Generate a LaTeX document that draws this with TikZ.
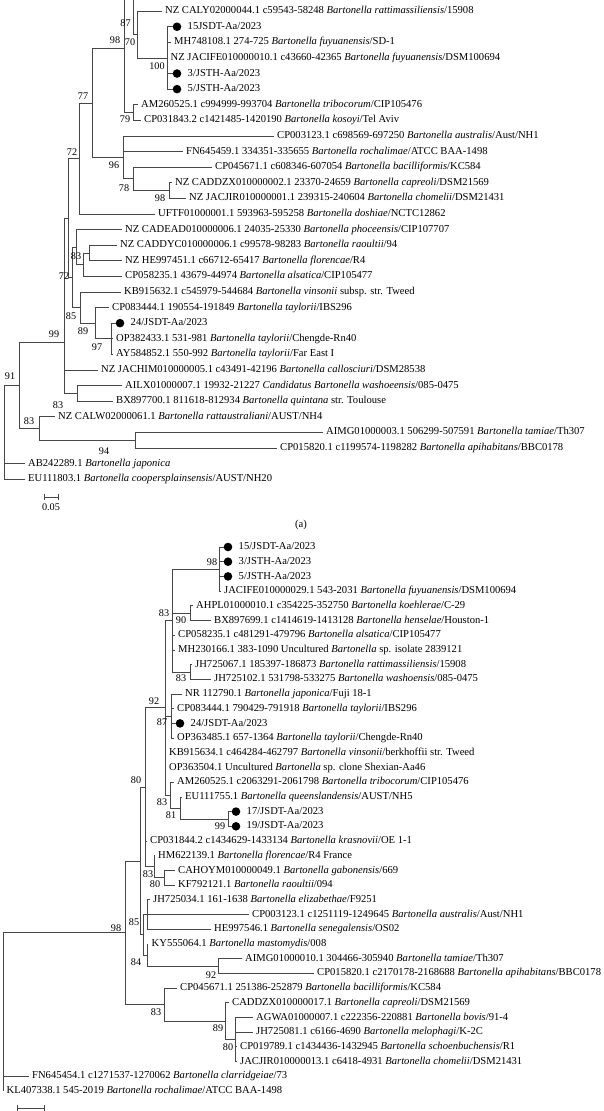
\documentclass[tikz,border=0pt]{standalone}
\usepackage{fontspec}
\setmainfont{Liberation Serif}
\usetikzlibrary{positioning}

\tikzset{
  br/.style={line width=0.8pt, draw=black!72},
  leaf/.style={anchor=west, inner xsep=3.5pt, inner ysep=0pt, text height=7.4pt, text depth=2.2pt, font=\fontsize{10.6}{12}\selectfont},
  bs/.style={inner sep=0pt, font=\fontsize{10.2}{12}\selectfont},
  iso/.style={circle, fill=black, inner sep=0pt, minimum size=8.6pt},
}

\begin{document}
\begin{tikzpicture}[x=1pt, y=-1pt]
    \useasboundingbox (0,0) rectangle (603,1111);
    \clip (0,0) rectangle (603,1111);
    \fill[white] (0,0) rectangle (603,1111);

    % ---------------- tree (a)
    \begin{scope}[yscale=1.013]
    % inner nodes
    \coordinate (a87) at (133,-15);
    \coordinate (a98) at (124,48);
    \coordinate (a70) at (137,34.1);
    \coordinate (a100) at (167,57.2);
    \coordinate (a79) at (133,111.1);
    \coordinate (a96) at (123,155.4);
    \coordinate (a78) at (133,176.5);
    \coordinate (a98b) at (169,188.1);
    \coordinate (a77) at (92,101.7);
    \coordinate (a72) at (79,156.5);
    \coordinate (aQ) at (68,215.2);
    \coordinate (aRF) at (89,249.7);
    \coordinate (a83) at (83,261.3);
    \coordinate (aC) at (76,244);
    \coordinate (a97) at (111,334.4);
    \coordinate (a89) at (95,319);
    \coordinate (a85) at (80,303.6);
    \coordinate (a72b) at (72,273.8);
    \coordinate (a99) at (64,338);
    \coordinate (a83b) at (77,388.3);
    \coordinate (a94) at (135,434.5);
    \coordinate (a83c) at (39,423);
    \coordinate (a91) at (19,380.5);
    \coordinate (aR) at (4,427);

    % leaves
    \node[leaf] (t0) at (161.5,11) {NZ CALY02000044.1 c59543-58248 \textit{Bartonella rattimassiliensis}/15908};
    \node[iso] (d1) at (177,26.4) {};
    \node[leaf, right=2.5pt of d1] (t1) {15JSDT-Aa/2023};
    \node[leaf] (t2) at (170.5,41.8) {MH748108.1 274-725 \textit{Bartonella fuyuanensis}/SD-1};
    \node[leaf] (t3) at (167,57.2) {NZ JACIFE010000010.1 c43660-42365 \textit{Bartonella fuyuanensis}/DSM100694};
    \node[iso] (d4) at (177,72.6) {};
    \node[leaf, right=2.5pt of d4] (t4) {3/JSTH-Aa/2023};
    \node[iso] (d5) at (177,88) {};
    \node[leaf, right=2.5pt of d5] (t5) {5/JSTH-Aa/2023};
    \node[leaf] (t6) at (137.5,103.4) {AM260525.1 c994999-993704 \textit{Bartonella tribocorum}/CIP105476};
    \node[leaf] (t7) at (140.5,118.8) {CP031843.2 c1421485-1420190 \textit{Bartonella kosoyi}/Tel Aviv};
    \node[leaf] (t8) at (273.5,134.2) {CP003123.1 c698569-697250 \textit{Bartonella australis}/Aust/NH1};
    \node[leaf] (t9) at (182.5,149.6) {FN645459.1 334351-335655 \textit{Bartonella rochalimae}/ATCC BAA-1498};
    \node[leaf] (t10) at (211.5,165) {CP045671.1 c608346-607054 \textit{Bartonella bacilliformis}/KC584};
    \node[leaf] (t11) at (171.5,180.4) {NZ CADDZX010000002.1 23370-24659 \textit{Bartonella capreoli}/DSM21569};
    \node[leaf] (t12) at (185.5,195.8) {NZ JACJIR010000001.1 239315-240604 \textit{Bartonella chomelii}/DSM21431};
    \node[leaf] (t13) at (154.5,211.2) {UFTF01000001.1 593963-595258 \textit{Bartonella doshiae}/NCTC12862};
    \node[leaf] (t14) at (121.5,226.6) {NZ CADEAD010000006.1 24035-25330 \textit{Bartonella phoceensis}/CIP107707};
    \node[leaf] (t15) at (116.5,242) {NZ CADDYC010000006.1 c99578-98283 \textit{Bartonella raoultii}/94};
    \node[leaf] (t16) at (121.5,257.4) {NZ HE997451.1 c66712-65417 \textit{Bartonella florencae}/R4};
    \node[leaf] (t17) at (121.5,272.8) {CP058235.1 43679-44974 \textit{Bartonella alsatica}/CIP105477};
    \node[leaf] (t18) at (120.5,288.2) {KB915632.1 c545979-544684 \textit{Bartonella vinsonii} subsp. str. Tweed};
    \node[leaf] (t19) at (108.5,303.6) {CP083444.1 190554-191849 \textit{Bartonella taylorii}/IBS296};
    \node[iso] (d20) at (120,319) {};
    \node[leaf, right=2.5pt of d20] (t20) {24/JSDT-Aa/2023};
    \node[leaf] (t21) at (112.5,334.4) {OP382433.1 531-981 \textit{Bartonella taylorii}/Chengde-Rn40};
    \node[leaf] (t22) at (112.5,349.8) {AY584852.1 550-992 \textit{Bartonella taylorii}/Far East I};
    \node[leaf] (t23) at (97.5,365.2) {NZ JACHIM010000005.1 c43491-42196 \textit{Bartonella callosciuri}/DSM28538};
    \node[leaf] (t24) at (121.5,380.6) {AILX01000007.1 19932-21227 \textit{Candidatus Bartonella washoeensis}/085-0475};
    \node[leaf] (t25) at (112.5,396) {BX897700.1 811618-812934 \textit{Bartonella quintana} str. Toulouse};
    \node[leaf] (t26) at (54.5,411.4) {NZ CALW02000061.1 \textit{Bartonella rattaustraliani}/AUST/NH4};
    \node[leaf] (t27) at (322.5,426.8) {AIMG01000003.1 506299-507591 \textit{Bartonella tamiae}/Th307};
    \node[leaf] (t28) at (276.5,442.2) {CP015820.1 c1199574-1198282 \textit{Bartonella apihabitans}/BBC0178};
    \node[leaf] (t29) at (24.5,457.6) {AB242289.1 \textit{Bartonella japonica}};
    \node[leaf] (t30) at (24.5,473) {EU111803.1 \textit{Bartonella coopersplainsensis}/AUST/NH20};

    % branches
    \foreach \p/\c in {a98/a87, a87/a70, a70/t0, a70/a100, a100/d1, a100/t2, a100/t3, a100/d4, a100/d5,
        a98/a79, a79/t6, a79/t7, a77/a98, a77/a96, a96/t8, a96/t9, a96/a78, a78/t10, a78/a98b,
        a98b/t11, a98b/t12, a72/a77, a72/t13, aQ/a72, aC/t14, aC/a83, a83/aRF, aRF/t15, aRF/t16,
        a83/t17, a72b/aC, a72b/a85, a85/t18, a85/a89, a89/t19, a89/a97, a97/d20, a97/t21, a97/t22,
        aQ/a72b, a99/aQ, a99/t23, a99/a83b, a83b/t24, a83b/t25, a91/a99, a91/a83c, a83c/t26,
        a83c/a94, a94/t27, a94/t28, aR/a91, aR/t29, aR/t30}
        \draw[br] (\p) |- (\c);

    % bootstrap values
    \node[bs] (s87) at (125.5,23) {87};
    \node[bs] (s98) at (115,40) {98};
    \node[bs] (s70) at (130,42) {70};
    \node[bs] (s100) at (157,65) {100};
    \node[bs] (s77) at (83,95) {77};
    \node[bs] (s79) at (125,118) {79};
    \node[bs] (s72) at (72,150) {72};
    \node[bs] (s96) at (114,163) {96};
    \node[bs] (s78) at (124,186) {78};
    \node[bs] (s98b) at (160,196) {98};
    \node[bs] (s83) at (76,253) {83};
    \node[bs] (s72b) at (64,273) {72};
    \node[bs] (s85) at (71,312) {85};
    \node[bs] (s89) at (83,327) {89};
    \node[bs] (s97) at (97,343) {97};
    \node[bs] (s99) at (54,330) {99};
    \node[bs] (s91) at (10,371) {91};
    \node[bs] (s83b) at (58,400) {83};
    \node[bs] (s83c) at (29,416) {83};
    \node[bs] (s94) at (104,445) {94};
    \end{scope}

    % scale bar and caption
    \coordinate (sa1) at (44,497);
    \coordinate (sa2) at (58,497);
    \draw[br] (sa1) -- (sa2);
    \draw[br] ([yshift=3pt]sa1) -- ([yshift=-3pt]sa1);
    \draw[br] ([yshift=3pt]sa2) -- ([yshift=-3pt]sa2);
    \node[bs] (sal) at (51,507) {0.05};
    \node[bs, font=\fontsize{10.6}{12}\selectfont] (capa) at (301,525) {(a)};

    % ---------------- tree (b): inner nodes
    \coordinate (b98) at (219,569.05);
    \coordinate (b90) at (190,613.15);
    \coordinate (b83y) at (190,671.95);
    \coordinate (b83x) at (172,620.5);
    \coordinate (b87) at (171,716.05);
    \coordinate (b99) at (228,818.95);
    \coordinate (b81) at (180,807.9);
    \coordinate (b83w) at (170,795.05);
    \coordinate (b92) at (165,707.8);
    \coordinate (bCh) at (164,877.75);
    \coordinate (b83v) at (154,866.7);
    \coordinate (b80) at (145,787.25);
    \coordinate (b85) at (147,914.5);
    \coordinate (b92b) at (218,965.95);
    \coordinate (b84) at (147,954.9);
    \coordinate (bM) at (143,934.7);
    \coordinate (bP) at (140,861);
    \coordinate (b80c) at (235,1039.45);
    \coordinate (b89) at (225,1021.1);
    \coordinate (b83u) at (164,1004.55);
    \coordinate (b98r) at (125,932.8);
    \coordinate (bR) at (3,1011.85);

    % leaves
    \node[iso] (e0) at (228,547) {};
    \node[leaf, right=2.5pt of e0] (u0) {15/JSDT-Aa/2023};
    \node[iso] (e1) at (228,561.7) {};
    \node[leaf, right=2.5pt of e1] (u1) {3/JSTH-Aa/2023};
    \node[iso] (e2) at (228,576.4) {};
    \node[leaf, right=2.5pt of e2] (u2) {5/JSTH-Aa/2023};
    \node[leaf] (u3) at (220.5,591.1) {JACIFE010000029.1 543-2031 \textit{Bartonella fuyuanensis}/DSM100694};
    \node[leaf] (u4) at (192.5,605.8) {AHPL01000010.1 c354225-352750 \textit{Bartonella koehlerae}/C-29};
    \node[leaf] (u5) at (210.5,620.5) {BX897699.1 c1414619-1413128 \textit{Bartonella henselae}/Houston-1};
    \node[leaf] (u6) at (174.5,635.2) {CP058235.1 c481291-479796 \textit{Bartonella alsatica}/CIP105477};
    \node[leaf] (u7) at (174.5,649.9) {MH230166.1 383-1090 Uncultured \textit{Bartonella} sp. isolate 2839121};
    \node[leaf] (u8) at (191.5,664.6) {JH725067.1 185397-186873 \textit{Bartonella rattimassiliensis}/15908};
    \node[leaf] (u9) at (210.5,679.3) {JH725102.1 531798-533275 \textit{Bartonella washoensis}/085-0475};
    \node[leaf] (u10) at (181.5,694) {NR 112790.1 \textit{Bartonella japonica}/Fuji 18-1};
    \node[leaf] (u11) at (173.5,708.7) {CP083444.1 790429-791918 \textit{Bartonella taylorii}/IBS296};
    \node[iso] (e12) at (180,723.4) {};
    \node[leaf, right=2.5pt of e12] (u12) {24/JSDT-Aa/2023};
    \node[leaf] (u13) at (173.5,738.1) {OP363485.1 657-1364 \textit{Bartonella taylorii}/Chengde-Rn40};
    \node[leaf] (u14) at (165.5,752.8) {KB915634.1 c464284-462797 \textit{Bartonella vinsonii}/berkhoffii str. Tweed};
    \node[leaf] (u15) at (165.5,767.5) {OP363504.1 Uncultured \textit{Bartonella} sp. clone Shexian-Aa46};
    \node[leaf] (u16) at (173.5,782.2) {AM260525.1 c2063291-2061798 \textit{Bartonella tribocorum}/CIP105476};
    \node[leaf] (u17) at (181.5,796.9) {EU111755.1 \textit{Bartonella queenslandensis}/AUST/NH5};
    \node[iso] (e18) at (236,811.6) {};
    \node[leaf, right=2.5pt of e18] (u18) {17/JSDT-Aa/2023};
    \node[iso] (e19) at (236,826.3) {};
    \node[leaf, right=2.5pt of e19] (u19) {19/JSDT-Aa/2023};
    \node[leaf] (u20) at (146.5,841) {CP031844.2 c1434629-1433134 \textit{Bartonella krasnovii}/OE 1-1};
    \node[leaf] (u21) at (154.5,855.7) {HM622139.1 \textit{Bartonella florencae}/R4 France};
    \node[leaf] (u22) at (174.5,870.4) {CAHOYM010000049.1 \textit{Bartonella gabonensis}/669};
    \node[leaf] (u23) at (174.5,885.1) {KF792121.1 \textit{Bartonella raoultii}/094};
    \node[leaf] (u24) at (149.5,899.8) {JH725034.1 161-1638 \textit{Bartonella elizabethae}/F9251};
    \node[leaf] (u25) at (248.5,914.5) {CP003123.1 c1251119-1249645 \textit{Bartonella australis}/Aust/NH1};
    \node[leaf] (u26) at (210.5,929.2) {HE997546.1 \textit{Bartonella senegalensis}/OS02};
    \node[leaf] (u27) at (148,943.9) {KY555064.1 \textit{Bartonella mastomydis}/008};
    \node[leaf] (u28) at (241.5,958.6) {AIMG01000010.1 304466-305940 \textit{Bartonella tamiae}/Th307};
    \node[leaf] (u29) at (313.5,973.3) {CP015820.1 c2170178-2168688 \textit{Bartonella apihabitans}/BBC0178};
    \node[leaf] (u30) at (176.5,988) {CP045671.1 251386-252879 \textit{Bartonella bacilliformis}/KC584};
    \node[leaf] (u31) at (228.5,1002.7) {CADDZX010000017.1 \textit{Bartonella capreoli}/DSM21569};
    \node[leaf] (u32) at (252.5,1017.4) {AGWA01000007.1 c222356-220881 \textit{Bartonella bovis}/91-4};
    \node[leaf] (u33) at (252.5,1032.1) {JH725081.1 c6166-4690 \textit{Bartonella melophagi}/K-2C};
    \node[leaf] (u34) at (236.5,1046.8) {CP019789.1 c1434436-1432945 \textit{Bartonella schoenbuchensis}/R1};
    \node[leaf] (u35) at (236.5,1061.5) {JACJIR010000013.1 c6418-4931 \textit{Bartonella chomelii}/DSM21431};
    \node[leaf] (u36) at (28.5,1076.2) {FN645454.1 c1271537-1270062 \textit{Bartonella clarridgeiae}/73};
    \node[leaf] (u37) at (3,1090.9) {KL407338.1 545-2019 \textit{Bartonella rochalimae}/ATCC BAA-1498};

    % branches
    \foreach \p/\c in {b98/e0, b98/e1, b98/e2, b98/u3, b83x/b98, b83x/b90, b90/u4, b90/u5, b83x/u6,
        b83x/u7, b83x/b83y, b83y/u8, b83y/u9, b92/b83x, b92/b87, b87/u10, b87/u11, b87/e12, b87/u13,
        b92/u14, b92/u15, b92/b83w, b83w/u16, b83w/b81, b81/u17, b81/b99, b99/e18, b99/e19,
        b80/b92, b80/u20, b80/b83v, b83v/u21, b83v/bCh, bCh/u22, bCh/u23, bP/b80, bP/bM, bM/b85,
        b85/u24, b85/u25, b85/u26, bM/b84, b84/u27, b84/b92b, b92b/u28, b92b/u29, b98r/bP,
        b98r/b83u, b83u/u30, b83u/b89, b89/u31, b89/b80c, b80c/u32, b80c/u33, b80c/u34, b80c/u35,
        bR/b98r, bR/u36, bR/u37}
        \draw[br] (\p) |- (\c);

    % bootstrap values
    \node[bs] (v98) at (212,562) {98};
    \node[bs] (v83x) at (164,613) {83};
    \node[bs] (v90) at (181,620) {90};
    \node[bs] (v83y) at (181,678) {83};
    \node[bs] (v92) at (154,701) {92};
    \node[bs] (v87) at (162,722) {87};
    \node[bs] (v80) at (136,780) {80};
    \node[bs] (v83w) at (162,802) {83};
    \node[bs] (v81) at (171,815) {81};
    \node[bs] (v99) at (220,826) {99};
    \node[bs] (v83v) at (148,874) {83};
    \node[bs] (v80b) at (155,884) {80};
    \node[bs] (v85) at (134,922) {85};
    \node[bs] (v98r) at (116,928) {98};
    \node[bs] (v84) at (136,962) {84};
    \node[bs] (v92b) at (211,975) {92};
    \node[bs] (v83u) at (156,1012) {83};
    \node[bs] (v89) at (218,1028) {89};
    \node[bs] (v80c) at (228,1047) {80};

    % scale bar, cut at the lower edge
    \coordinate (sb1) at (17,1108);
    \coordinate (sb2) at (44,1108);
    \draw[br] (sb1) -- (sb2);
    \draw[br] ([yshift=3pt]sb1) -- ([yshift=-3pt]sb1);
    \draw[br] ([yshift=3pt]sb2) -- ([yshift=-3pt]sb2);
\end{tikzpicture}
\end{document}
